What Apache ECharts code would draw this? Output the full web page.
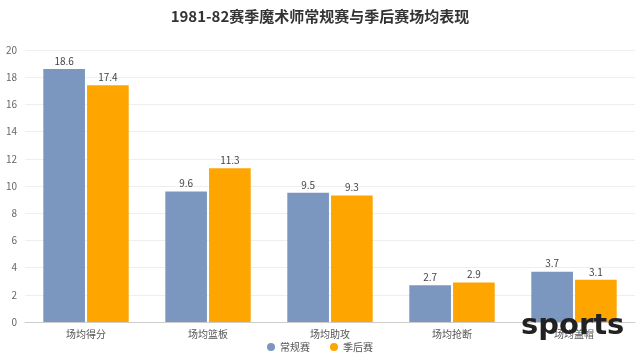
<!DOCTYPE html>
<html><head><meta charset="utf-8">
<script src="https://cdn.jsdelivr.net/npm/echarts@6/dist/echarts.min.js"></script>
<style>html,body{margin:0;padding:0;background:#fff}#c{width:640px;height:357px}</style>
</head><body><div id="c"></div>
<script>
const categories = ['场均得分', '场均篮板', '场均助攻', '场均抢断', '场均盖帽'];
const regular = [18.6, 9.6, 9.5, 2.7, 3.7];
const playoff = [17.4, 11.3, 9.3, 2.9, 3.1];
const seriesNames = ['常规赛', '季后赛'];
const font = '"Noto Sans CJK SC", "Noto Sans", sans-serif';
const chart = echarts.init(document.getElementById('c'));
chart.setOption({
  backgroundColor: '#fff',
  textStyle: { fontFamily: font },
  title: { text: '1981-82赛季魔术师常规赛与季后赛场均表现', left: 'center', top: 4,
    textStyle: { fontSize: 15, fontWeight: 'bold', color: '#333', fontFamily: font } },
  legend: { bottom: 0, itemWidth: 8, itemHeight: 8, icon: 'circle', itemGap: 20,
    textStyle: { fontSize: 10, color: '#555' }, data: seriesNames },
  grid: { left: 25, right: 5, top: 50, bottom: 35, containLabel: false },
  xAxis: { type: 'category', data: categories,
    axisLine: { lineStyle: { color: '#ccc' } },
    axisTick: { alignWithLabel: true, lineStyle: { color: '#ccc' } },
    axisLabel: { fontSize: 10, color: '#555', margin: 7 } },
  yAxis: { type: 'value', min: 0, max: 20, interval: 2,
    axisLabel: { fontSize: 10, color: '#666', margin: 8 },
    splitLine: { lineStyle: { color: '#eee' } } },
  series: [
    { name: seriesNames[0], type: 'bar', data: regular, barGap: '5%', barCategoryGap: '30%',
      itemStyle: { color: '#7b97bf' },
      label: { show: true, position: 'top', fontSize: 10, color: '#444', distance: 3 } },
    { name: seriesNames[1], type: 'bar', data: playoff,
      itemStyle: { color: '#ffa500' },
      label: { show: true, position: 'top', fontSize: 10, color: '#444', distance: 3 } }
  ],
  graphic: [{ type: 'text', left: 521, top: 312, z: 100,
    style: { text: 'sports', font: 'bold 29px "DejaVu Sans", sans-serif', fill: '#222' } }]
});
</script></body></html>
